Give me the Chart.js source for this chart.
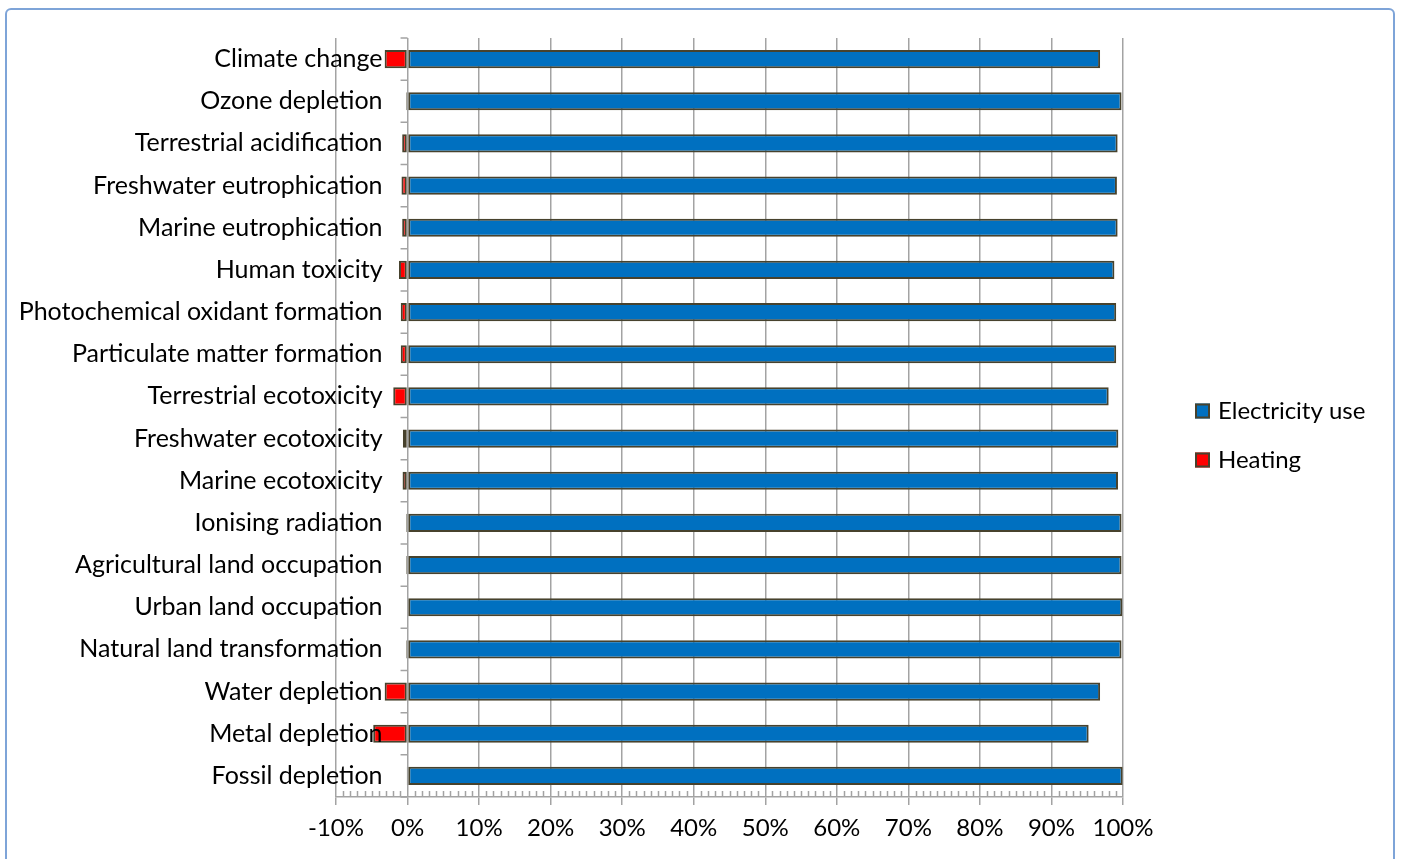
<!DOCTYPE html>
<html>
<head>
<meta charset="utf-8">
<title>Impact shares: electricity use and heating</title>
<script src="https://cdn.jsdelivr.net/npm/chart.js@4.4.1/dist/chart.umd.min.js"></script>
<style>
  html, body { margin: 0; padding: 0; background: #ffffff; overflow: hidden; }
  #wrap { position: relative; width: 1402px; height: 859px; }
  #frame {
    position: absolute; left: 5px; top: 8px; width: 1386px; height: 900px;
    border: 2px solid #7ea4d8; border-radius: 6px; pointer-events: none;
  }
  canvas { position: absolute; left: 0; top: 0; }
</style>
</head>
<body>
<div id="wrap">
  <canvas id="chart" width="1402" height="859"></canvas>
  <div id="frame"></div>
</div>
<script>
// Impact categories (top to bottom)
const categories = [
  'Climate change',
  'Ozone depletion',
  'Terrestrial acidification',
  'Freshwater eutrophication',
  'Marine eutrophication',
  'Human toxicity',
  'Photochemical oxidant formation',
  'Particulate matter formation',
  'Terrestrial ecotoxicity',
  'Freshwater ecotoxicity',
  'Marine ecotoxicity',
  'Ionising radiation',
  'Agricultural land occupation',
  'Urban land occupation',
  'Natural land transformation',
  'Water depletion',
  'Metal depletion',
  'Fossil depletion'
];

// Share of each impact, in percent
const electricityUse = [
  96.8, 99.8, 99.25, 99.15, 99.25, 98.8, 99.05, 99.05, 98.0,
  99.35, 99.3, 99.8, 99.8, 99.9, 99.8, 96.8, 95.2, 99.95
];
const heating = [
  -3.2, -0.2, -0.75, -0.85, -0.75, -1.2, -0.95, -0.95, -2.0,
  -0.65, -0.7, -0.2, -0.2, -0.1, -0.2, -3.2, -4.8, -0.05
];

const seriesNames = ['Electricity use', 'Heating'];
const axisMin = -10;
const axisMax = 100;
const axisStep = 10;

const FONT = 'Lato, "Open Sans", sans-serif';
const LABEL_SIZE = 25;
const TICK_SIZE = 24;
const TEXT = '#000000';
const GRID = '#a3a3a3';
const EDGE = '#47422d';

// Category labels, category ticks on the 0% line, minor ticks and the legend
const overlay = {
  id: 'overlay',
  afterDatasetsDraw(chart) {
    const { ctx, chartArea } = chart;
    const xs = chart.scales.x;
    const ys = chart.scales.y;
    const x0 = xs.getPixelForValue(0);
    const n = chart.data.labels.length;
    const band = (chartArea.bottom - chartArea.top) / n;

    ctx.save();
    // category separators on the value-zero axis
    ctx.strokeStyle = GRID;
    ctx.lineWidth = 1.5;
    ctx.beginPath();
    for (let i = 0; i <= n; i++) {
      const y = chartArea.top + i * band;
      ctx.moveTo(x0 - 7, y);
      ctx.lineTo(x0, y);
    }
    // minor ticks along the value axis
    for (let v = axisMin; v <= axisMax; v += 1) {
      if (v % axisStep === 0) continue;
      const x = Math.round(xs.getPixelForValue(v)) + 0.5;
      ctx.moveTo(x, chartArea.bottom - 6);
      ctx.lineTo(x, chartArea.bottom);
    }
    ctx.stroke();

    // category names, right-aligned against the 0% line
    ctx.fillStyle = TEXT;
    ctx.font = LABEL_SIZE + 'px ' + FONT;
    ctx.textAlign = 'right';
    ctx.textBaseline = 'middle';
    chart.data.labels.forEach((name, i) => {
      ctx.fillText(name, x0 - 25, ys.getPixelForValue(i));
    });

    // legend
    const lx = 1195, ly = [411, 460];
    ctx.font = TICK_SIZE + 'px ' + FONT;
    ctx.textAlign = 'left';
    chart.data.datasets.forEach((ds, i) => {
      const cy = ly[i];
      ctx.fillStyle = ds.backgroundColor;
      ctx.fillRect(lx, cy - 7.5, 15, 15);
      ctx.strokeStyle = ds.borderColor;
      ctx.lineWidth = 2;
      ctx.strokeRect(lx + 1, cy - 6.5, 13, 13);
      ctx.fillStyle = TEXT;
      ctx.fillText(ds.label, lx + 23, cy);
    });
    ctx.restore();
  }
};

const chart = new Chart(document.getElementById('chart'), {
  type: 'bar',
  data: {
    labels: categories,
    datasets: [
      {
        label: seriesNames[0],
        data: electricityUse,
        backgroundColor: '#0070c0',
        borderColor: EDGE,
        borderWidth: 2,
        borderSkipped: false,
        barPercentage: 0.43,
        categoryPercentage: 1
      },
      {
        label: seriesNames[1],
        data: heating,
        backgroundColor: '#ff0000',
        borderColor: EDGE,
        borderWidth: 2,
        borderSkipped: false,
        barPercentage: 0.43,
        categoryPercentage: 1
      }
    ]
  },
  options: {
    indexAxis: 'y',
    responsive: false,
    animation: false,
    devicePixelRatio: 1,
    layout: { padding: { left: 336, right: 279, top: 38, bottom: 0 } },
    plugins: {
      legend: { display: false },
      tooltip: { enabled: false }
    },
    scales: {
      x: {
        stacked: true,
        min: axisMin,
        max: axisMax,
        afterFit(scale) { scale.height = 62; },
        ticks: {
          stepSize: axisStep,
          color: TEXT,
          padding: 9,
          font: { family: FONT, size: TICK_SIZE },
          callback: (v) => v + '%'
        },
        grid: {
          color: GRID,
          lineWidth: 1.5,
          tickLength: 8,
          drawTicks: true
        },
        border: { display: true, color: GRID, width: 1.5 }
      },
      y: {
        stacked: true,
        display: false,
        grid: { display: false }
      }
    }
  },
  plugins: [overlay]
});
</script>
</body>
</html>
